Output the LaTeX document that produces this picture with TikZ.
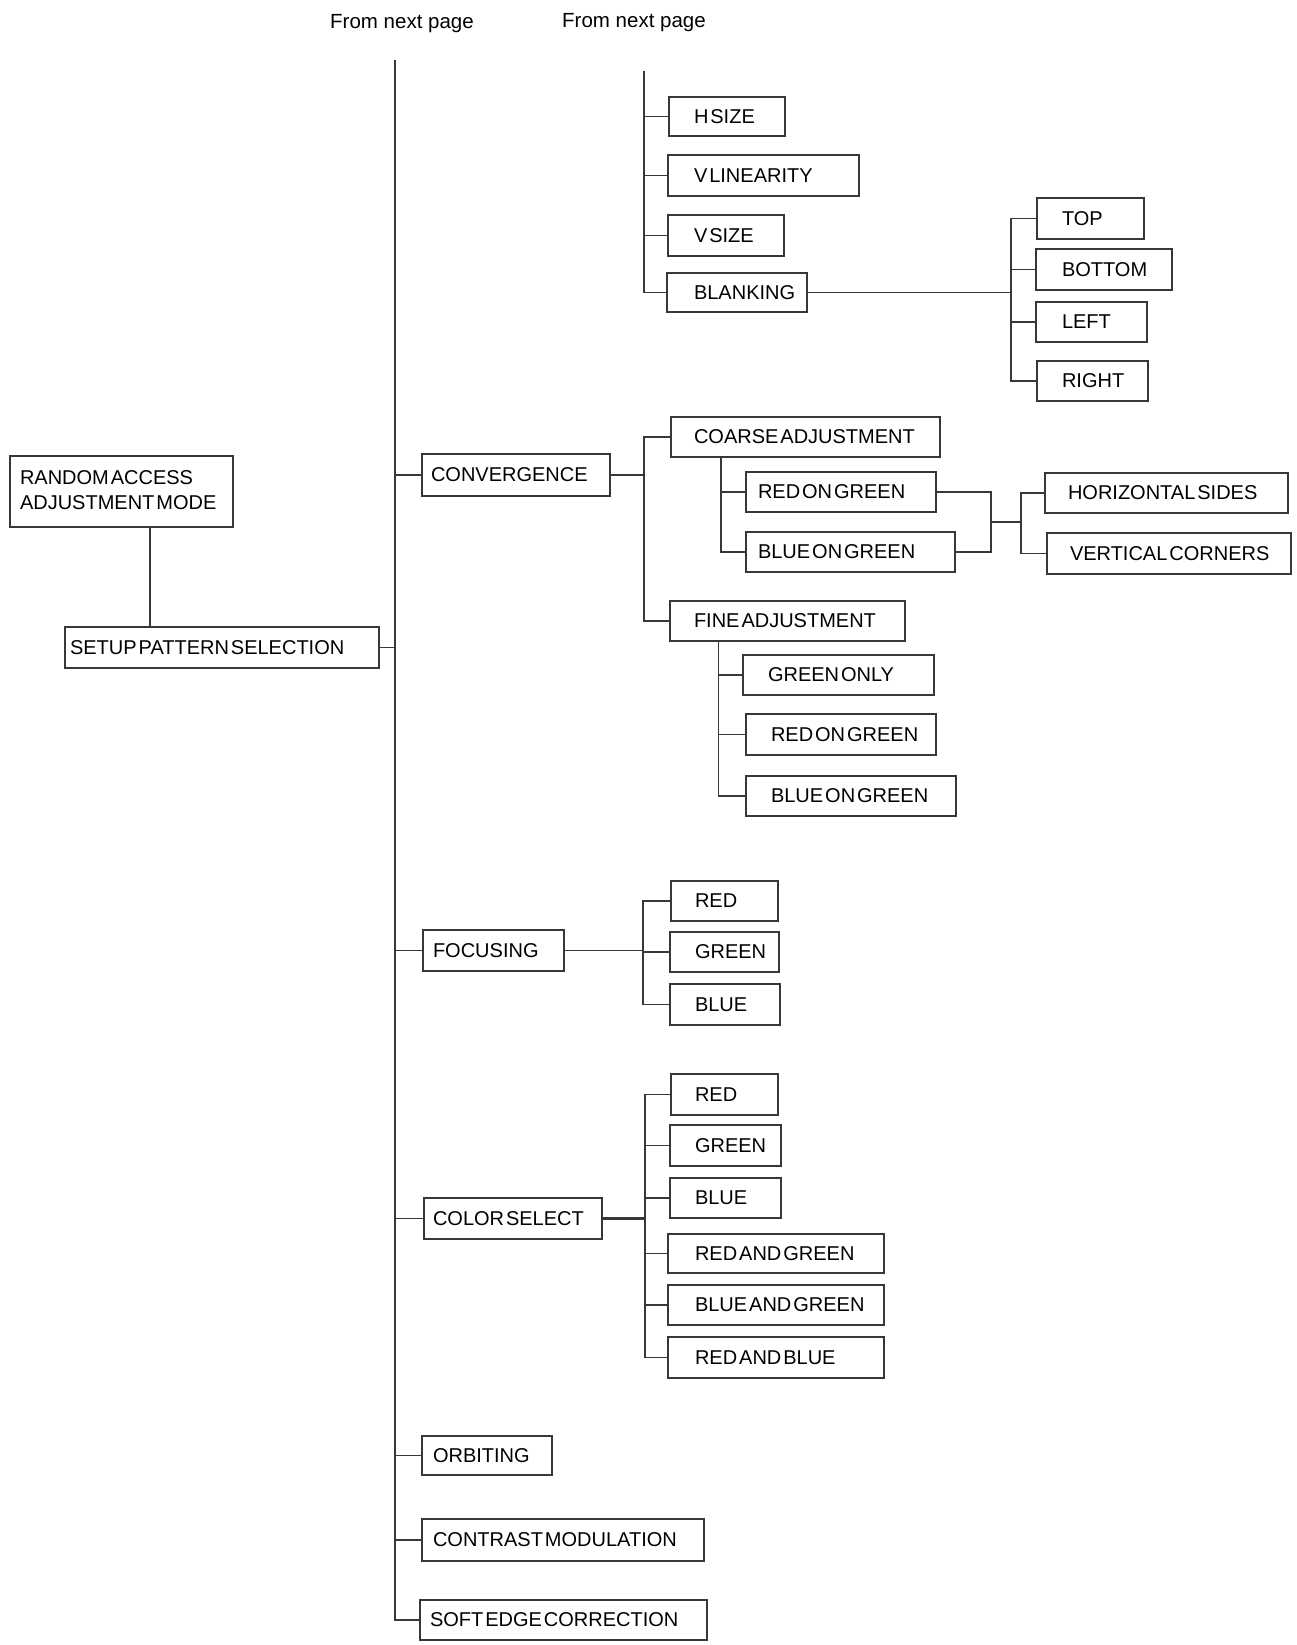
\documentclass[tikz,border=0pt]{standalone}
\usepackage{fontspec}
\setmainfont{Liberation Sans}[WordSpace=0.35]
\newfontfamily\fnpfont{Liberation Sans}
\usetikzlibrary{calc}
\newcommand\bx[7]{%
  \node[bxs, minimum width={(#4-#2)*1pt}, minimum height={(#5-#3)*1pt}] (#1)
    at ({(#2+#4)/2},{(#3+#5)/2})
    {\makebox[\dimexpr #4pt-#2pt-(#6pt-#2pt)*2\relax][l]{#7}};}
\begin{document}
\begin{tikzpicture}[x=1pt,y=-1pt,
  bxs/.style={draw=black!78, line width=1.7pt, inner sep=0pt, text=black,
    font=\fontsize{20}{25}\selectfont},
  ln/.style={draw=black!78, line width=1.8pt},
  fnps/.style={inner sep=0pt, anchor=base, font=\fnpfont\fontsize{20.5}{24}\selectfont}]
\useasboundingbox (0,0) rectangle (1296,1645);
\fill[white] (0,0) rectangle (1296,1645);

% headers
\node[fnps] (fnp1) at (402,29) {From next page};
\node[fnps] (fnp2) at (634,27.5) {From next page};

% left
\bx{ram}{10}{456}{233}{527}{20}{\begin{tabular}{@{}l@{}}RANDOM ACCESS\\ADJUSTMENT MODE\end{tabular}}
\bx{setup}{65}{627}{379}{668}{70}{SETUP PATTERN SELECTION}

% main branches
\bx{conv}{422}{454}{610}{496}{431}{CONVERGENCE}
\bx{foc}{423}{930}{564}{971}{433}{FOCUSING}
\bx{cs}{424}{1198}{602}{1239}{433}{COLOR SELECT}
\bx{orb}{422}{1436}{552}{1475}{433}{ORBITING}
\bx{con}{422}{1519}{704}{1561}{433}{CONTRAST MODULATION}
\bx{soft}{420}{1600}{707}{1640}{430}{SOFT EDGE CORRECTION}

% top group
\bx{hsize}{669}{97}{785}{136}{694}{H SIZE}
\bx{vlin}{668}{155}{859}{196}{694}{V LINEARITY}
\bx{vsize}{668}{215}{784}{256}{694}{V SIZE}
\bx{blank}{667}{273}{807}{312}{694}{BLANKING}
\bx{btop}{1037}{198}{1144}{239}{1062}{TOP}
\bx{bbot}{1036}{249}{1172}{290}{1062}{BOTTOM}
\bx{bleft}{1036}{302}{1147}{342}{1062}{LEFT}
\bx{bright}{1037}{361}{1148}{401}{1062}{RIGHT}

% convergence
\bx{coarse}{671}{417}{940}{457}{694}{COARSE ADJUSTMENT}
\bx{rgc}{746}{472}{936}{512}{758}{RED ON GREEN}
\bx{bgc}{746}{532}{955}{572}{758}{BLUE ON GREEN}
\bx{hs}{1045}{473}{1288}{513}{1068}{HORIZONTAL SIDES}
\bx{vc}{1047}{533}{1291}{574}{1070}{VERTICAL CORNERS}
\bx{fine}{670}{601}{905}{641}{694}{FINE ADJUSTMENT}
\bx{go}{743}{655}{934}{695}{768}{GREEN ONLY}
\bx{rgf}{746}{714}{936}{755}{771}{RED ON GREEN}
\bx{bgf}{746}{776}{956}{816}{771}{BLUE ON GREEN}

% focusing
\bx{fr}{671}{881}{778}{921}{695}{RED}
\bx{fg}{670}{932}{779}{972}{695}{GREEN}
\bx{fb}{670}{984}{780}{1025}{695}{BLUE}

% color select
\bx{cr}{671}{1074}{778}{1115}{695}{RED}
\bx{cg}{670}{1125}{781}{1166}{695}{GREEN}
\bx{cb}{670}{1178}{781}{1218}{695}{BLUE}
\bx{crg}{668}{1234}{884}{1273}{695}{RED AND GREEN}
\bx{cbg}{668}{1285}{884}{1325}{695}{BLUE AND GREEN}
\bx{crb}{668}{1337}{884}{1378}{695}{RED AND BLUE}

% spine coordinates
\coordinate (s1top) at (395,60);
\coordinate (s2top) at (644,71);
\coordinate (s3) at (1011,0);
\coordinate (s4) at (644,0);
\coordinate (s5) at (721,0);
\coordinate (s6) at (991,0);
\coordinate (s7) at (1021,0);
\coordinate (s8) at (718.5,0);
\coordinate (s9) at (643,0);
\coordinate (s10) at (645,0);
\coordinate (lk) at (150,0);

% main spine
\draw[ln] (s1top) -- (soft.west -| s1top) -- (soft.west);
\draw[ln] (setup.east) -- (setup.east -| s1top);
\foreach \n in {conv,foc,cs,orb,con} \draw[ln] (\n.west) -- (\n.west -| s1top);
\draw[ln] (ram.south -| lk) -- (setup.north -| lk);

% top group
\draw[ln] (s2top) -- (blank.west -| s2top) -- (blank.west);
\foreach \n in {hsize,vlin,vsize} \draw[ln] (\n.west) -- (\n.west -| s2top);
\draw[ln] (blank.east) -- (blank.east -| s3);
\draw[ln] (btop.west) -- (btop.west -| s3) -- (bright.west -| s3) -- (bright.west);
\foreach \n in {bbot,bleft} \draw[ln] (\n.west) -- (\n.west -| s3);

% convergence
\draw[ln] (conv.east) -- (conv.east -| s4);
\draw[ln] (coarse.west) -- (coarse.west -| s4) -- (fine.west -| s4) -- (fine.west);
\draw[ln] (coarse.south -| s5) -- (bgc.west -| s5) -- (bgc.west);
\draw[ln] (rgc.west) -- (rgc.west -| s5);
\draw[ln] (rgc.east) -- (rgc.east -| s6) -- (bgc.east -| s6) -- (bgc.east);
\coordinate (s6m) at ($(rgc.east -| s6)!0.5!(bgc.east -| s6)$);
\draw[ln] (s6m) -- (s6m -| s7);
\draw[ln] (hs.west) -- (hs.west -| s7) -- (vc.west -| s7) -- (vc.west);
\draw[ln] (fine.south -| s8) -- (bgf.west -| s8) -- (bgf.west);
\foreach \n in {go,rgf} \draw[ln] (\n.west) -- (\n.west -| s8);

% focusing
\draw[ln] (foc.east) -- (foc.east -| s9);
\draw[ln] (fr.west) -- (fr.west -| s9) -- (fb.west -| s9) -- (fb.west);
\draw[ln] (fg.west) -- (fg.west -| s9);

% color select
\draw[ln, line width=2.6pt] (cs.east) -- (cs.east -| s10);
\draw[ln] (cr.west) -- (cr.west -| s10) -- (crb.west -| s10) -- (crb.west);
\foreach \n in {cg,cb,crg,cbg} \draw[ln] (\n.west) -- (\n.west -| s10);
\end{tikzpicture}
\end{document}
